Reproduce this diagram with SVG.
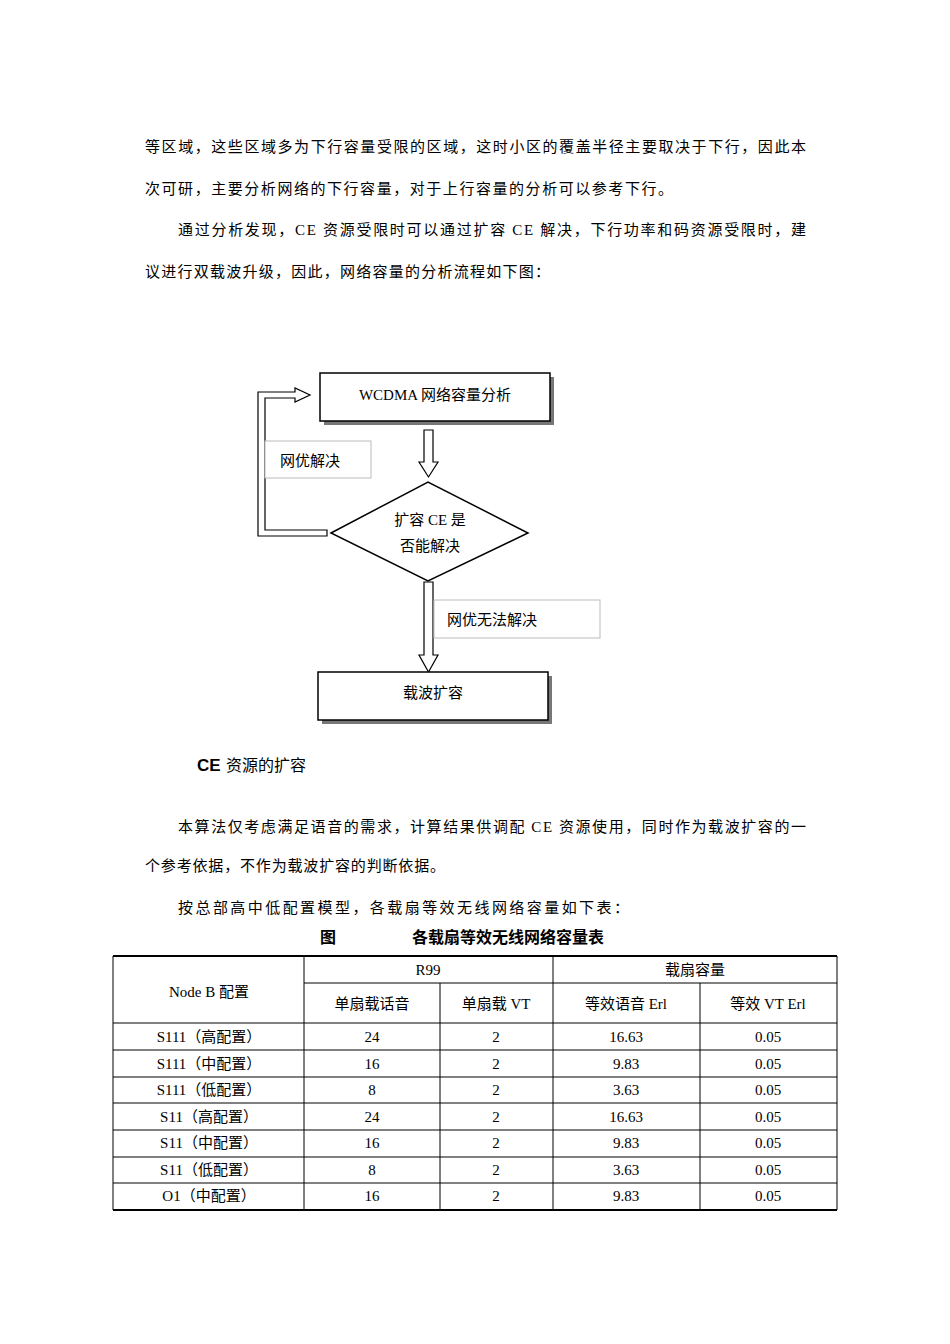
<svg xmlns="http://www.w3.org/2000/svg" width="950" height="1344" viewBox="0 0 950 1344">
<style>
.t{font-family:"Liberation Serif","Noto Sans CJK SC",serif;font-size:15px;fill:#000}
.c{text-anchor:middle}
.box{fill:#fff;stroke:#000;stroke-width:1.5}
.sh{fill:#777}
.lb{fill:#fff;stroke:#bbb;stroke-width:1}
.ar{fill:#fff;stroke:#000;stroke-width:1.2}
.tl{stroke:#000;stroke-width:1}
.tk{stroke:#000;stroke-width:2}
</style>
<rect width="950" height="1344" fill="#fff"/>
<text class="t" x="145" y="152" textLength="661" lengthAdjust="spacing">等区域，这些区域多为下行容量受限的区域，这时小区的覆盖半径主要取决于下行，因此本</text>
<text class="t" x="145" y="194" textLength="528" lengthAdjust="spacing">次可研，主要分析网络的下行容量，对于上行容量的分析可以参考下行。</text>
<text class="t" x="178" y="235" textLength="628" lengthAdjust="spacing">通过分析发现，CE 资源受限时可以通过扩容 CE 解决，下行功率和码资源受限时，建</text>
<text class="t" x="145" y="277" textLength="405" lengthAdjust="spacing">议进行双载波升级，因此，网络容量的分析流程如下图：</text>

<g id="connectors">
<path class="ar" d="M424,430 H433 V462 H438 L428.5,477 L419,462 H424 Z"/>
<path class="ar" d="M424,582 H433 V655 H438 L428.5,672 L419,655 H424 Z"/>
<path class="ar" d="M327,530 V536 H258 V392 H295 V388 L310,395 L295,402 V398 H265 V530 Z"/>
</g>
<g id="label1"><rect class="lb" x="265" y="441" width="106" height="37"/><text class="t" x="280" y="466">网优解决</text></g>
<g id="label2"><rect class="lb" x="434" y="600" width="166" height="38"/><text class="t" x="447" y="625">网优无法解决</text></g>
<g id="n1"><rect class="sh" x="324" y="377" width="230" height="48"/><rect class="box" x="320" y="373" width="230" height="48"/><text class="t c" x="435" y="400">WCDMA 网络容量分析</text></g>
<g id="n2"><polygon class="box" points="331,533 428,482 528,533 428,581"/><text class="t c" x="430" y="525">扩容 CE 是</text><text class="t c" x="430" y="551">否能解决</text></g>
<g id="n3"><rect class="sh" x="322" y="676" width="230" height="48"/><rect class="box" x="318" y="672" width="230" height="48"/><text class="t c" x="433" y="698">载波扩容</text></g>

<text x="197" y="771" style="font-family:'Liberation Sans',sans-serif;font-size:17px;font-weight:bold">CE</text>
<text class="t" x="226" y="771" style="font-size:16px">资源的扩容</text>
<text class="t" x="178" y="832" textLength="628" lengthAdjust="spacing">本算法仅考虑满足语音的需求，计算结果供调配 CE 资源使用，同时作为载波扩容的一</text>
<text class="t" x="145" y="871" textLength="300" lengthAdjust="spacing">个参考依据，不作为载波扩容的判断依据。</text>
<text class="t" x="178" y="913" textLength="451" lengthAdjust="spacing">按总部高中低配置模型，各载扇等效无线网络容量如下表：</text>
<text x="320" y="943" style="font-family:'Noto Sans CJK SC',sans-serif;font-size:16px;font-weight:bold">图</text>
<text x="412" y="943" style="font-family:'Noto Sans CJK SC',sans-serif;font-size:16px;font-weight:bold">各载扇等效无线网络容量表</text>

<g id="table">
<line class="tk" x1="113" y1="956" x2="837" y2="956"/>
<line class="tk" x1="113" y1="1210" x2="837" y2="1210"/>
<line class="tl" x1="113" y1="956" x2="113" y2="1210"/>
<line class="tl" x1="837" y1="956" x2="837" y2="1210"/>
<line class="tl" x1="304" y1="956" x2="304" y2="1210"/>
<line class="tl" x1="553" y1="956" x2="553" y2="1210"/>
<line class="tl" x1="440" y1="983" x2="440" y2="1210"/>
<line class="tl" x1="700" y1="983" x2="700" y2="1210"/>
<line class="tl" x1="304" y1="983" x2="837" y2="983"/>
<line class="tl" x1="113" y1="1023" x2="837" y2="1023"/>
<line class="tl" x1="113" y1="1050" x2="837" y2="1050"/>
<line class="tl" x1="113" y1="1077" x2="837" y2="1077"/>
<line class="tl" x1="113" y1="1103" x2="837" y2="1103"/>
<line class="tl" x1="113" y1="1130" x2="837" y2="1130"/>
<line class="tl" x1="113" y1="1157" x2="837" y2="1157"/>
<line class="tl" x1="113" y1="1183" x2="837" y2="1183"/>
<g class="t c">
<text x="209" y="997">Node B 配置</text>
<text x="428" y="975">R99</text>
<text x="695" y="975">载扇容量</text>
<text x="372" y="1009">单扇载话音</text>
<text x="496" y="1009">单扇载 VT</text>
<text x="626" y="1009">等效语音 Erl</text>
<text x="768" y="1009">等效 VT Erl</text>
</g>
<g class="t c">
<text x="209" y="1042">S111（高配置）</text><text x="372" y="1042">24</text><text x="496" y="1042">2</text><text x="626" y="1042">16.63</text><text x="768" y="1042">0.05</text>
<text x="209" y="1069">S111（中配置）</text><text x="372" y="1069">16</text><text x="496" y="1069">2</text><text x="626" y="1069">9.83</text><text x="768" y="1069">0.05</text>
<text x="209" y="1095">S111（低配置）</text><text x="372" y="1095">8</text><text x="496" y="1095">2</text><text x="626" y="1095">3.63</text><text x="768" y="1095">0.05</text>
<text x="209" y="1122">S11（高配置）</text><text x="372" y="1122">24</text><text x="496" y="1122">2</text><text x="626" y="1122">16.63</text><text x="768" y="1122">0.05</text>
<text x="209" y="1148">S11（中配置）</text><text x="372" y="1148">16</text><text x="496" y="1148">2</text><text x="626" y="1148">9.83</text><text x="768" y="1148">0.05</text>
<text x="209" y="1175">S11（低配置）</text><text x="372" y="1175">8</text><text x="496" y="1175">2</text><text x="626" y="1175">3.63</text><text x="768" y="1175">0.05</text>
<text x="209" y="1201">O1（中配置）</text><text x="372" y="1201">16</text><text x="496" y="1201">2</text><text x="626" y="1201">9.83</text><text x="768" y="1201">0.05</text>
</g>
</g>
</svg>
